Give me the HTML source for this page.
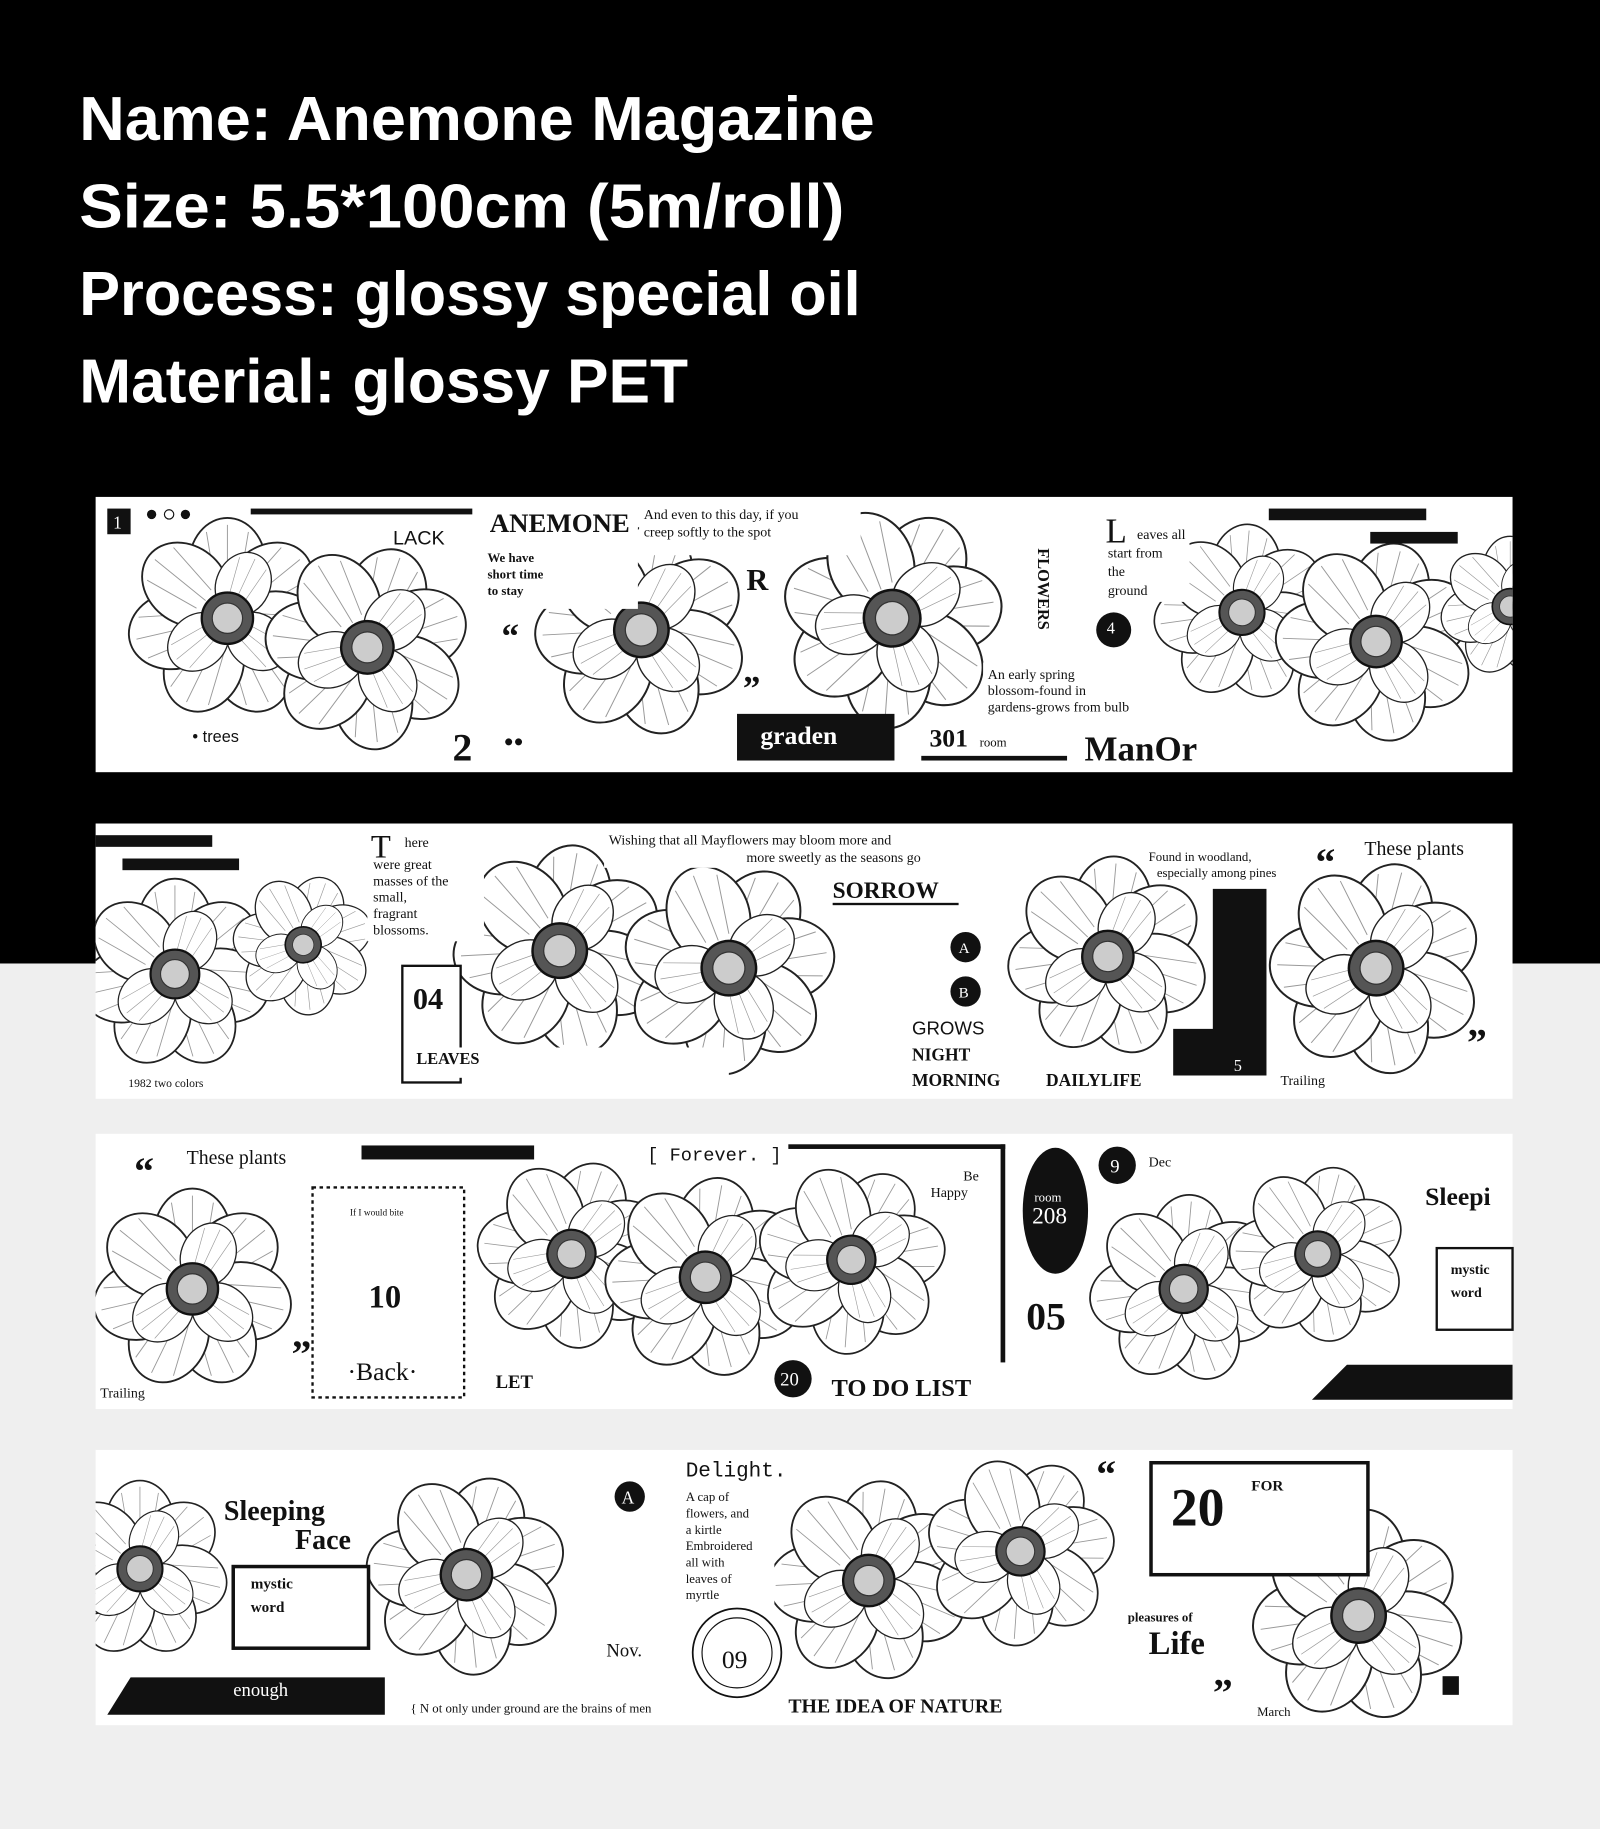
<!DOCTYPE html>
<html><head><meta charset="utf-8"><style>
html,body{margin:0;padding:0;background:#efefef;width:1600px;height:1829px;overflow:hidden}
svg{display:block}
text{font-family:"Liberation Serif",serif}
</style></head><body>
<svg width="1600" height="1829" viewBox="0 0 1372 1568" preserveAspectRatio="none" xmlns="http://www.w3.org/2000/svg" xmlns:xlink="http://www.w3.org/1999/xlink">
<defs>
<g id="pt">
<ellipse cx="0" cy="-46" rx="33" ry="40" fill="#fff" stroke="#222" stroke-width="1.6"/>
<path d="M0 -24L0 -80M-10 -26L-18 -74M10 -26L18 -74" stroke="#999" stroke-width="0.8" fill="none"/>
</g>
<g id="f">
<use xlink:href="#pt" href="#pt" transform="rotate(0)"/>
<use xlink:href="#pt" href="#pt" transform="rotate(51)"/>
<use xlink:href="#pt" href="#pt" transform="rotate(103)"/>
<use xlink:href="#pt" href="#pt" transform="rotate(154)"/>
<use xlink:href="#pt" href="#pt" transform="rotate(206)"/>
<use xlink:href="#pt" href="#pt" transform="rotate(257)"/>
<use xlink:href="#pt" href="#pt" transform="rotate(309)"/>
<use xlink:href="#pt" href="#pt" transform="rotate(25) scale(0.7)"/>
<use xlink:href="#pt" href="#pt" transform="rotate(128) scale(0.7)"/>
<use xlink:href="#pt" href="#pt" transform="rotate(231) scale(0.7)"/>
<circle r="22" fill="#555" stroke="#111" stroke-width="2"/>
<circle r="13" fill="#ccc" stroke="#333"/>
</g>
</defs>
<rect x="0" y="0" width="1372" height="1568" fill="#efefef"/>
<rect x="0" y="0" width="1372" height="826" fill="#000"/>
<g fill="#fff" font-weight="bold" font-size="53">
<text x="68" y="120" textLength="682" lengthAdjust="spacingAndGlyphs" style="font-family:'Liberation Sans',sans-serif">Name: Anemone Magazine</text>
<text x="68" y="195" textLength="656" lengthAdjust="spacingAndGlyphs" style="font-family:'Liberation Sans',sans-serif">Size: 5.5*100cm (5m/roll)</text>
<text x="68" y="270" textLength="670" lengthAdjust="spacingAndGlyphs" style="font-family:'Liberation Sans',sans-serif">Process: glossy special oil</text>
<text x="68" y="345" textLength="522" lengthAdjust="spacingAndGlyphs" style="font-family:'Liberation Sans',sans-serif">Material: glossy PET</text>
</g>
<rect x="82" y="426" width="1215" height="236" fill="#fff"/>
<rect x="82" y="706" width="1215" height="236" fill="#fff"/>
<rect x="82" y="972" width="1215" height="236" fill="#fff"/>
<rect x="82" y="1243" width="1215" height="236" fill="#fff"/>
<svg x="82" y="426" width="1215" height="236" viewBox="82 426 1215 236" overflow="hidden">
<use href="#f" xlink:href="#f" transform="translate(195 530) scale(1.0)"/>
<use href="#f" xlink:href="#f" transform="translate(315 555) scale(1.02) rotate(20)"/>
<use href="#f" xlink:href="#f" transform="translate(550 540) scale(1.06) rotate(10)"/>
<use href="#f" xlink:href="#f" transform="translate(765 530) scale(1.1) rotate(30)"/>
<use href="#f" xlink:href="#f" transform="translate(1065 525) scale(0.88) rotate(5)"/>
<use href="#f" xlink:href="#f" transform="translate(1180 550) scale(1.0) rotate(15)"/>
<use href="#f" xlink:href="#f" transform="translate(1295 520) scale(0.7)"/>
</svg>
<svg x="82" y="706" width="1215" height="236" viewBox="82 706 1215 236" overflow="hidden">
<use href="#f" xlink:href="#f" transform="translate(150 835) scale(0.95)"/>
<use href="#f" xlink:href="#f" transform="translate(260 810) scale(0.7) rotate(20)"/>
<use href="#f" xlink:href="#f" transform="translate(480 815) scale(1.06) rotate(10)"/>
<use href="#f" xlink:href="#f" transform="translate(625 830) scale(1.06) rotate(30)"/>
<use href="#f" xlink:href="#f" transform="translate(950 820) scale(1.0) rotate(5)"/>
<use href="#f" xlink:href="#f" transform="translate(1180 830) scale(1.06) rotate(15)"/>
</svg>
<svg x="82" y="972" width="1215" height="236" viewBox="82 972 1215 236" overflow="hidden">
<use href="#f" xlink:href="#f" transform="translate(165 1105) scale(1.0)"/>
<use href="#f" xlink:href="#f" transform="translate(490 1075) scale(0.94) rotate(20)"/>
<use href="#f" xlink:href="#f" transform="translate(605 1095) scale(1.0) rotate(10)"/>
<use href="#f" xlink:href="#f" transform="translate(730 1080) scale(0.94) rotate(30)"/>
<use href="#f" xlink:href="#f" transform="translate(1015 1105) scale(0.94) rotate(5)"/>
<use href="#f" xlink:href="#f" transform="translate(1130 1075) scale(0.88) rotate(15)"/>
</svg>
<svg x="82" y="1243" width="1215" height="236" viewBox="82 1243 1215 236" overflow="hidden">
<use href="#f" xlink:href="#f" transform="translate(120 1345) scale(0.88)"/>
<use href="#f" xlink:href="#f" transform="translate(400 1350) scale(1.0) rotate(20)"/>
<use href="#f" xlink:href="#f" transform="translate(745 1355) scale(1.0) rotate(10)"/>
<use href="#f" xlink:href="#f" transform="translate(875 1330) scale(0.94) rotate(30)"/>
<use href="#f" xlink:href="#f" transform="translate(1165 1385) scale(1.06) rotate(5)"/>
</svg>
<g fill="#111">
<rect x="92" y="436" width="20" height="22"/><text x="97" y="453" fill="#fff" font-size="15">1</text>
<circle cx="130" cy="441" r="4"/><circle cx="145" cy="441" r="4" fill="#fff" stroke="#111"/><circle cx="159" cy="441" r="4"/>
<rect x="215" y="436" width="190" height="5"/>
<text x="337" y="467" font-size="17" style="font-family:'Liberation Sans',sans-serif">LACK</text>
<rect x="412" y="432" width="135" height="90" fill="#fff"/>
<text x="420" y="456" font-size="23" font-weight="bold">ANEMONE</text>
<rect x="548" y="432" width="190" height="44" fill="#fff"/>
<text x="552" y="445" font-size="12">And even to this day, if you</text>
<text x="552" y="460" font-size="12">creep softly to the spot</text>
<text x="418" y="482" font-size="11" font-weight="bold">We have</text>
<text x="418" y="496" font-size="11" font-weight="bold">short time</text>
<text x="418" y="510" font-size="11" font-weight="bold">to stay</text>
<text x="430" y="555" font-size="30" font-weight="bold">“</text>
<text x="640" y="506" font-size="26" font-weight="bold">R</text>
<text x="637" y="600" font-size="30" font-weight="bold">”</text>
<rect x="632" y="612" width="135" height="40"/><text x="652" y="638" fill="#fff" font-size="22" font-weight="bold">graden</text>
<rect x="790" y="616" width="130" height="30" fill="#fff"/>
<text x="797" y="640" font-size="22" font-weight="bold">301</text><text x="840" y="640" font-size="11">room</text>
<rect x="790" y="648" width="125" height="4"/>
<rect x="925" y="622" width="120" height="36" fill="#fff"/>
<text x="930" y="652" font-size="30" font-weight="bold">ManOr</text>
<rect x="880" y="440" width="25" height="130" fill="#fff"/>
<text x="890" y="470" font-size="14" font-weight="bold" transform="rotate(90 890 470)">FLOWERS</text>
<rect x="940" y="436" width="80" height="80" fill="#fff"/>
<text x="948" y="465" font-size="30">L</text><text x="975" y="462" font-size="12">eaves all</text>
<text x="950" y="478" font-size="12">start from</text><text x="950" y="494" font-size="12">the</text><text x="950" y="510" font-size="12">ground</text>
<circle cx="955" cy="540" r="15"/><text x="949" y="543" fill="#fff" font-size="14">4</text>
<rect x="843" y="568" width="130" height="46" fill="#fff"/>
<text x="847" y="582" font-size="12">An early spring</text><text x="847" y="596" font-size="12">blossom-found in</text><text x="847" y="610" font-size="12">gardens-grows from bulb</text>
<rect x="1088" y="436" width="135" height="10"/><rect x="1175" y="456" width="75" height="10"/>
<text x="165" y="636" font-size="14" style="font-family:'Liberation Sans',sans-serif">• trees</text>
<text x="388" y="652" font-size="34" font-weight="bold">2</text>
<text x="432" y="640" font-size="14" font-weight="bold">●●</text>
<rect x="82" y="716" width="100" height="10"/><rect x="105" y="736" width="100" height="10"/>
<rect x="315" y="712" width="100" height="95" fill="#fff"/>
<text x="318" y="735" font-size="28">T</text><text x="347" y="726" font-size="12">here</text>
<text x="320" y="745" font-size="12">were great</text><text x="320" y="759" font-size="12">masses of the</text><text x="320" y="773" font-size="12">small,</text><text x="320" y="787" font-size="12">fragrant</text><text x="320" y="801" font-size="12">blossoms.</text>
<rect x="518" y="710" width="330" height="34" fill="#fff"/>
<text x="522" y="724" font-size="12">Wishing that all Mayflowers may bloom more and</text>
<text x="640" y="739" font-size="12">more sweetly as the seasons go</text>
<rect x="712" y="750" width="112" height="28" fill="#fff"/>
<text x="714" y="770" font-size="20" font-weight="bold">SORROW</text><rect x="714" y="774" width="108" height="2"/>
<rect x="345" y="828" width="50" height="100" fill="#fff" stroke="#111" stroke-width="2"/>
<text x="354" y="865" font-size="26" font-weight="bold">04</text>
<rect x="355" y="898" width="270" height="26" fill="#fff"/>
<text x="357" y="912" font-size="14" font-weight="bold">LEAVES</text>
<rect x="778" y="870" width="92" height="64" fill="#fff"/>
<circle cx="828" cy="812" r="13"/><text x="822" y="817" fill="#fff" font-size="13">A</text>
<circle cx="828" cy="850" r="13"/><text x="822" y="855" fill="#fff" font-size="13">B</text>
<text x="782" y="887" font-size="16" style="font-family:'Liberation Sans',sans-serif">GROWS</text>
<text x="782" y="909" font-size="15" font-weight="bold">NIGHT</text><text x="782" y="931" font-size="15" font-weight="bold">MORNING</text>
<rect x="895" y="916" width="100" height="20" fill="#fff"/>
<text x="897" y="931" font-size="15" font-weight="bold">DAILYLIFE</text>
<path d="M1040 762h46v160h-80v-40h34z"/><text x="1058" y="918" fill="#fff" font-size="14">5</text>
<text x="985" y="738" font-size="11">Found in woodland,</text><text x="992" y="752" font-size="11">especially among pines</text>
<text x="1128" y="750" font-size="34" font-weight="bold">“</text><text x="1170" y="733" font-size="17">These plants</text>
<text x="1258" y="905" font-size="34" font-weight="bold">”</text><text x="1098" y="930" font-size="12">Trailing</text>
<text x="110" y="932" font-size="10">1982   two colors</text>
<text x="115" y="1015" font-size="34" font-weight="bold">“</text><text x="160" y="998" font-size="17">These plants</text>
<rect x="310" y="982" width="148" height="12"/>
<text x="555" y="995" font-size="16" style="font-family:'Liberation Mono',monospace">[ Forever. ]</text>
<rect x="268" y="1018" width="130" height="180" fill="#fff" stroke="#111" stroke-width="2" stroke-dasharray="3 3"/>
<text x="300" y="1042" font-size="8">If I would bite</text>
<text x="316" y="1121" font-size="28" font-weight="bold">10</text>
<text x="298" y="1183" font-size="22">·Back·</text>
<text x="250" y="1172" font-size="34" font-weight="bold">”</text>
<text x="425" y="1190" font-size="16" font-weight="bold">LET</text>
<rect x="676" y="981" width="186" height="4"/><rect x="858" y="981" width="4" height="187"/>
<text x="826" y="1012" font-size="12">Be</text><text x="798" y="1026" font-size="12">Happy</text>
<ellipse cx="905" cy="1038" rx="28" ry="54"/><text x="887" y="1030" fill="#fff" font-size="11">room</text><text x="885" y="1049" fill="#fff" font-size="20">208</text>
<text x="880" y="1140" font-size="34" font-weight="bold">05</text>
<circle cx="680" cy="1182" r="16"/><text x="669" y="1188" fill="#fff" font-size="16">20</text>
<rect x="710" y="1176" width="150" height="26" fill="#fff"/>
<text x="713" y="1197" font-size="21" font-weight="bold">TO DO LIST</text>
<circle cx="958" cy="999" r="16"/><text x="952" y="1005" fill="#fff" font-size="16">9</text>
<text x="985" y="1000" font-size="12">Dec</text>
<rect x="1218" y="1010" width="79" height="30" fill="#fff"/>
<text x="1222" y="1033" font-size="22" font-weight="bold">Sleepi</text>
<rect x="1232" y="1070" width="65" height="70" fill="#fff" stroke="#111" stroke-width="2"/>
<text x="1244" y="1092" font-size="12" font-weight="bold">mystic</text><text x="1244" y="1112" font-size="12" font-weight="bold">word</text>
<path d="M1125 1200l30-30h142v30z"/>
<text x="86" y="1198" font-size="12">Trailing</text>
<rect x="190" y="1280" width="120" height="54" fill="#fff"/>
<text x="192" y="1303" font-size="24" font-weight="bold">Sleeping</text><text x="253" y="1328" font-size="24" font-weight="bold">Face</text>
<rect x="200" y="1343" width="116" height="70" fill="#fff" stroke="#111" stroke-width="3"/>
<text x="215" y="1362" font-size="13" font-weight="bold">mystic</text><text x="215" y="1382" font-size="13" font-weight="bold">word</text>
<path d="M92 1470l20-32h218v32z"/><text x="200" y="1454" fill="#fff" font-size="16">enough</text>
<circle cx="540" cy="1283" r="13"/><text x="533" y="1289" fill="#fff" font-size="15">A</text>
<text x="520" y="1420" font-size="16">Nov.</text>
<rect x="584" y="1248" width="80" height="128" fill="#fff"/>
<text x="588" y="1266" font-size="18" style="font-family:'Liberation Mono',monospace">Delight.</text>
<text x="588" y="1287" font-size="11">A cap of</text><text x="588" y="1301" font-size="11">flowers, and</text><text x="588" y="1315" font-size="11">a kirtle</text><text x="588" y="1329" font-size="11">Embroidered</text><text x="588" y="1343" font-size="11">all with</text><text x="588" y="1357" font-size="11">leaves of</text><text x="588" y="1371" font-size="11">myrtle</text>
<circle cx="632" cy="1417" r="38" fill="#fff" stroke="#111" stroke-width="1.5"/><circle cx="632" cy="1417" r="30" fill="none" stroke="#111"/>
<text x="619" y="1430" font-size="22">09</text>
<rect x="674" y="1452" width="226" height="22" fill="#fff"/>
<text x="676" y="1468" font-size="17" font-weight="bold">THE IDEA OF NATURE</text>
<text x="940" y="1275" font-size="34" font-weight="bold">“</text>
<rect x="987" y="1254" width="186" height="96" fill="#fff" stroke="#111" stroke-width="3"/>
<text x="1004" y="1308" font-size="46" font-weight="bold">20</text><text x="1073" y="1278" font-size="13" font-weight="bold">FOR</text>
<rect x="960" y="1378" width="95" height="45" fill="#fff"/>
<text x="967" y="1390" font-size="11" font-weight="bold">pleasures of</text><text x="985" y="1418" font-size="28" font-weight="bold">Life</text>
<text x="1040" y="1462" font-size="34" font-weight="bold">”</text><text x="1078" y="1471" font-size="11">March</text>
<rect x="1237" y="1437" width="14" height="16"/>
<text x="352" y="1468" font-size="11">{ N ot only under ground are the brains of men</text>
</g>
</svg>
</body></html>
